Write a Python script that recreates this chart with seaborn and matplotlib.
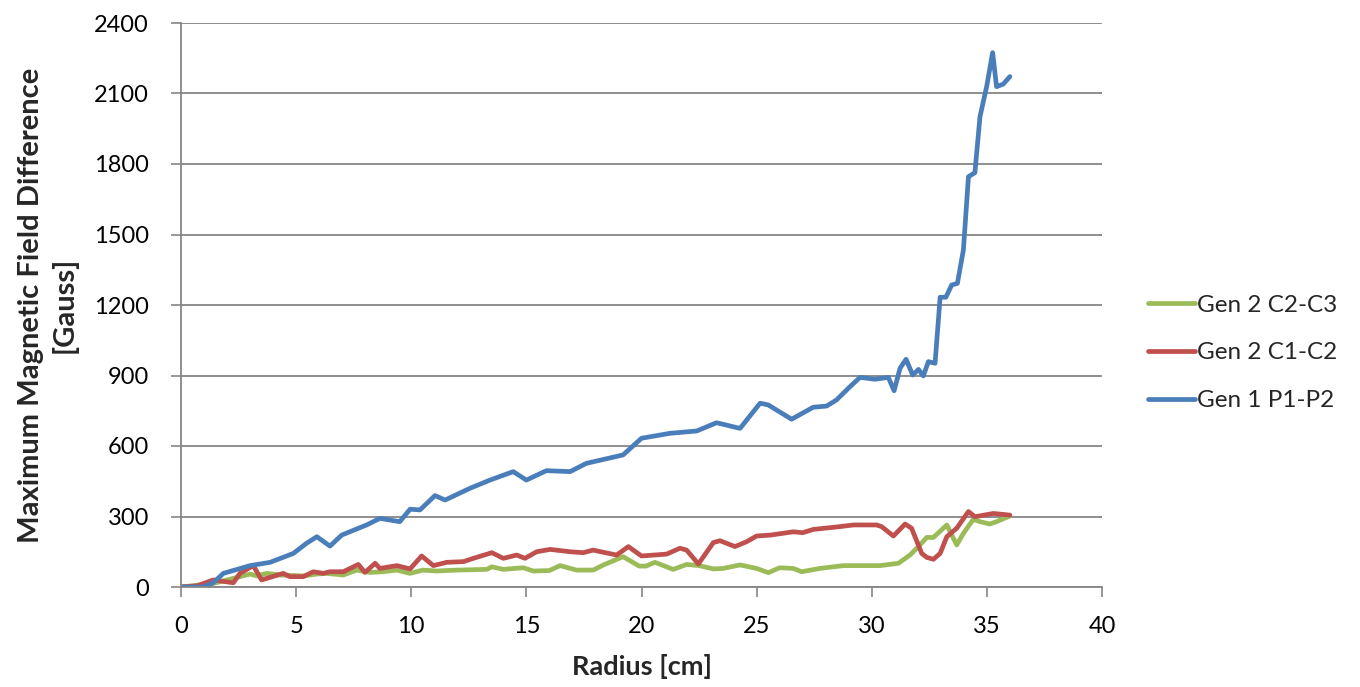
import numpy as np
import pandas as pd
import matplotlib
matplotlib.use("Agg")
import matplotlib.pyplot as plt
import seaborn as sns

# ---- data ----
r_blue = [0, 0.97, 1.4, 1.84, 3.0, 3.87, 4.88, 5.45, 5.9, 6.47, 6.98, 8.06, 8.64, 9.5, 9.95,
          10.38, 11.03, 11.47, 12.55, 13.42, 14.43, 15.0, 15.87, 16.9, 17.6, 19.2, 20.0,
          21.24, 22.4, 23.26, 24.28, 25.15, 25.5, 26.52, 27.46, 28.04, 28.47, 29.05, 29.49,
          30.14, 30.72, 30.97, 31.23, 31.49, 31.78, 32.03, 32.24, 32.46, 32.75, 32.97, 33.22,
          33.47, 33.72, 33.98, 34.2, 34.48, 34.7, 34.99, 35.25, 35.42, 35.71, 36.0]
g_blue = [0, 0, 18, 58, 91, 105, 143, 186, 214, 174, 221, 264, 292, 278, 331,
          328, 389, 370, 420, 455, 491, 455, 495, 491, 526, 562, 633,
          654, 664, 699, 675, 782, 775, 714, 765, 770, 796, 852, 892,
          884, 892, 835, 931, 969, 902, 926, 898, 959, 952, 1233, 1233,
          1285, 1292, 1434, 1746, 1763, 2001, 2129, 2274, 2129, 2140, 2172]

r_red = [0, 0.7, 1.4, 2.27, 2.56, 3.14, 3.5, 4.44, 4.73, 5.31, 5.75, 6.18, 6.47, 7.05, 7.7,
         7.99, 8.43, 8.64, 9.37, 9.95, 10.45, 10.96, 11.54, 12.27, 12.7, 13.5, 14.0, 14.58,
         14.94, 15.45, 16.03, 16.9, 17.47, 17.9, 18.92, 19.43, 20.0, 21.09, 21.67, 21.96,
         22.47, 23.12, 23.41, 24.06, 24.57, 25.0, 25.6, 26.6, 27.0, 27.46, 28.62, 29.2,
         30.21, 30.43, 30.94, 31.45, 31.73, 32.17, 32.39, 32.68, 32.97, 33.26, 33.69, 34.2,
         34.48, 35.28, 36.0]
g_red = [0, 5, 30, 18, 58, 91, 30, 58, 44, 44, 65, 58, 65, 65, 96,
         62, 101, 79, 91, 77, 132, 91, 105, 108, 122, 146, 122, 136,
         122, 150, 160, 150, 146, 157, 136, 172, 132, 140, 165, 157,
         98, 189, 197, 172, 193, 217, 221, 235, 231, 245, 257, 264,
         264, 257, 217, 268, 250, 143, 126, 118, 143, 214, 250, 321,
         299, 313, 306]

r_green = [0, 1.4, 2.56, 3.0, 3.3, 3.72, 4.3, 5.3, 5.9, 6.3, 7.05, 7.63, 8.2, 8.78, 9.37,
           9.95, 10.5, 11.1, 11.98, 13.28, 13.5, 14.0, 14.86, 15.3, 16.0, 16.46, 17.18, 17.9,
           18.35, 19.2, 19.9, 20.2, 20.58, 21.38, 21.96, 22.5, 23.12, 23.55, 24.28, 25.0,
           25.51, 26.0, 26.6, 26.95, 27.75, 28.77, 30.36, 31.16, 31.66, 32.03, 32.39, 32.68,
           33.26, 33.69, 33.98, 34.41, 34.7, 35.13, 35.42, 36.0]
g_green = [0, 15, 44, 55, 47, 58, 51, 47, 55, 58, 51, 72, 62, 65, 72,
           58, 72, 68, 72, 75, 86, 75, 82, 68, 70, 91, 72, 72,
           94, 129, 89, 89, 105, 75, 96, 91, 77, 79, 94, 79,
           61, 82, 79, 65, 79, 91, 91, 101, 136, 172, 211, 211,
           264, 179, 228, 288, 278, 268, 278, 302]

series_names = ["Gen 2 C2-C3", "Gen 2 C1-C2", "Gen 1 P1-P2"]
x_ticks = [0, 5, 10, 15, 20, 25, 30, 35, 40]
y_ticks = [0, 300, 600, 900, 1200, 1500, 1800, 2100, 2400]

df = pd.concat([
    pd.DataFrame({"r": r_green, "g": g_green, "s": series_names[0]}),
    pd.DataFrame({"r": r_red, "g": g_red, "s": series_names[1]}),
    pd.DataFrame({"r": r_blue, "g": g_blue, "s": series_names[2]}),
], ignore_index=True)

sns.set_theme(style="white")
plt.rcParams["font.family"] = ["Lato", "DejaVu Sans"]

fig = plt.figure(figsize=(13.6, 6.87), dpi=100)
ax = fig.add_axes([181 / 1360, 1 - 587 / 687, (1102 - 181) / 1360, (587 - 23) / 687])

palette = {series_names[0]: "#9BBB59", series_names[1]: "#C0504D", series_names[2]: "#4A7EBB"}
sns.lineplot(data=df, x="r", y="g", hue="s", palette=palette, sort=False,
             estimator=None, linewidth=3.4, ax=ax, legend=True)

ax.set_xlim(0, 40)
ax.set_ylim(0, 2400)
ax.set_xticks(x_ticks)
ax.set_yticks(y_ticks)
ax.tick_params(axis="both", labelsize=17, labelcolor="#000000", color="#868686",
               length=7, width=1.2, direction="out", bottom=True, left=True)
ax.tick_params(axis="x", pad=14)
ax.tick_params(axis="y", pad=16)
ax.yaxis.grid(True, color="#868686", linewidth=1.3)
ax.xaxis.grid(False)
for side in ["top", "right"]:
    ax.spines[side].set_visible(False)
for side in ["left", "bottom"]:
    ax.spines[side].set_color("#868686")
    ax.spines[side].set_linewidth(1.3)

ax.set_xlabel("Radius [cm]", fontsize=19.5, fontweight="bold", labelpad=12)
ax.set_ylabel("Maximum Magnetic Field Difference\n[Gauss]", fontsize=21,
              fontweight="bold", labelpad=12, linespacing=1.3)

leg = ax.legend(loc="center left", bbox_to_anchor=(1.05, 0.415), frameon=False,
                borderpad=0, borderaxespad=0,
                fontsize=17.5, handlelength=1.93, handletextpad=0.08, labelspacing=1.1)
for line in leg.get_lines():
    line.set_linewidth(3.4)

fig.savefig("out.png", dpi=100)
